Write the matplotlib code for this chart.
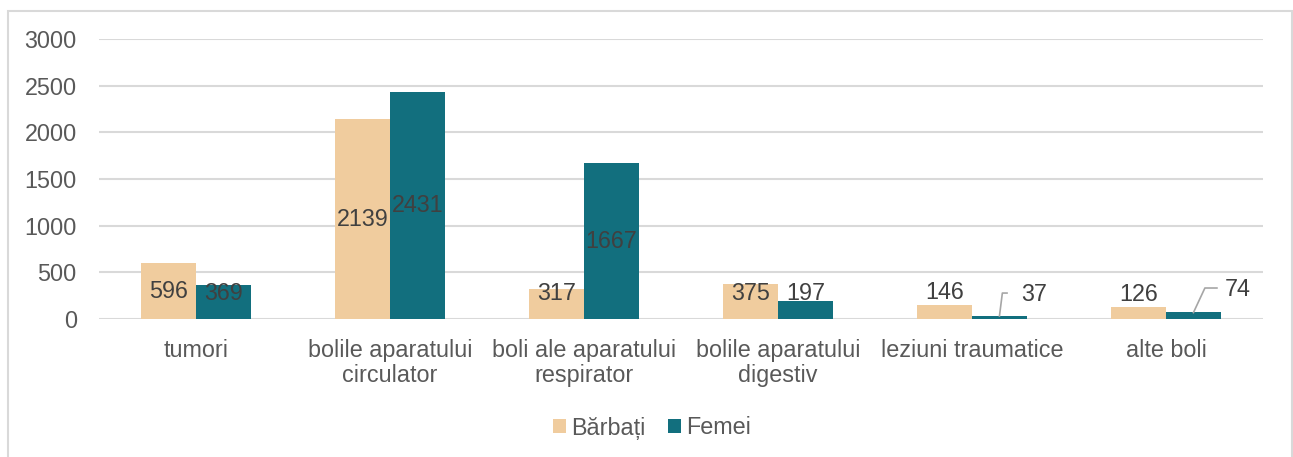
import matplotlib
matplotlib.use("Agg")
import matplotlib.pyplot as plt
from matplotlib.patches import Rectangle
import numpy as np

categories = ["tumori", "bolile aparatului\ncirculator", "boli ale aparatului\nrespirator",
              "bolile aparatului\ndigestiv", "leziuni traumatice", "alte boli"]
barbati = [596, 2139, 317, 375, 146, 126]
femei = [369, 2431, 1667, 197, 37, 74]
series_names = ["Bărbați", "Femei"]
yticks = [0, 500, 1000, 1500, 2000, 2500, 3000]

plt.rcParams['font.family'] = ['Liberation Sans', 'DejaVu Sans']
W, H = 1293, 457
fig = plt.figure(figsize=(W/100, H/100), dpi=100)
fig.patch.set_facecolor('white')

# outer border
fig.patches.append(Rectangle((7.5/W, -0.05), (1291.5-7.5)/W, 1.05 - 10.5/H,
                             transform=fig.transFigure, fill=False,
                             edgecolor='#D9D9D9', linewidth=1.5))

x0, x1 = 99, 1263
y0, y1 = 319, 39
ax = fig.add_axes([x0/W, 1 - y0/H, (x1-x0)/W, (y0-y1)/H])
ax.set_xlim(-0.5, 5.5)
ax.set_ylim(0, 3000)

c_m = '#F0CC9E'
c_f = '#126F7E'
bw = 0.283
fs = 16.8
x = np.arange(len(categories))
ax.bar(x - bw/2, barbati, bw, color=c_m, label=series_names[0], zorder=3)
ax.bar(x + bw/2, femei, bw, color=c_f, label=series_names[1], zorder=3)

ax.set_yticks(yticks)
ax.set_yticklabels([str(v) for v in yticks], fontsize=fs, color='#595959')
ax.grid(axis='y', color='#D9D9D9', linewidth=1.5, zorder=0)
ax.set_axisbelow(True)
for s in ax.spines.values():
    s.set_visible(False)
ax.tick_params(axis='both', length=0)
ax.tick_params(axis='y', pad=16)
ax.set_xticks(x)
ax.set_xticklabels(categories, fontsize=fs, color='#595959', linespacing=1.12)
ax.tick_params(axis='x', pad=14.5)

lab_col = '#404040'
for i in range(4):
    for off, v in ((-bw/2, barbati[i]), (bw/2, femei[i])):
        ax.text(x[i] + off, max(v/2, 270), str(v), ha='center', va='center',
                fontsize=fs, color=lab_col, zorder=5)
# small bars: labels above
for i in (4, 5):
    ax.text(x[i] - bw/2, barbati[i] + 140, str(barbati[i]), ha='center', va='center',
            fontsize=fs, color=lab_col, zorder=5)
# leader-line labels for small female bars
lead = {4: (0.015, 278, 0.039, 0.178, 262), 5: (0.059, 332, 0.121, 0.227, 316)}
for i, (dxl, ytop, dxh, dxt, ytxt) in lead.items():
    xb = x[i] + bw/2
    ax.plot([xb, xb + dxl, xb + dxh], [femei[i] - 5, ytop, ytop],
            color='#A6A6A6', linewidth=1.2, zorder=4, clip_on=False)
    ax.text(xb + dxt, ytxt, str(femei[i]), ha='center', va='center',
            fontsize=fs, color=lab_col, zorder=5)

leg = fig.legend(loc='center', bbox_to_anchor=(652/W, 1 - 428/H), ncol=2, frameon=False,
                 fontsize=fs, handlelength=0.55, handleheight=0.55, handletextpad=0.2,
                 columnspacing=1.0)
for t in leg.get_texts():
    t.set_color('#595959')

fig.savefig('out.png', dpi=100, facecolor='white')
